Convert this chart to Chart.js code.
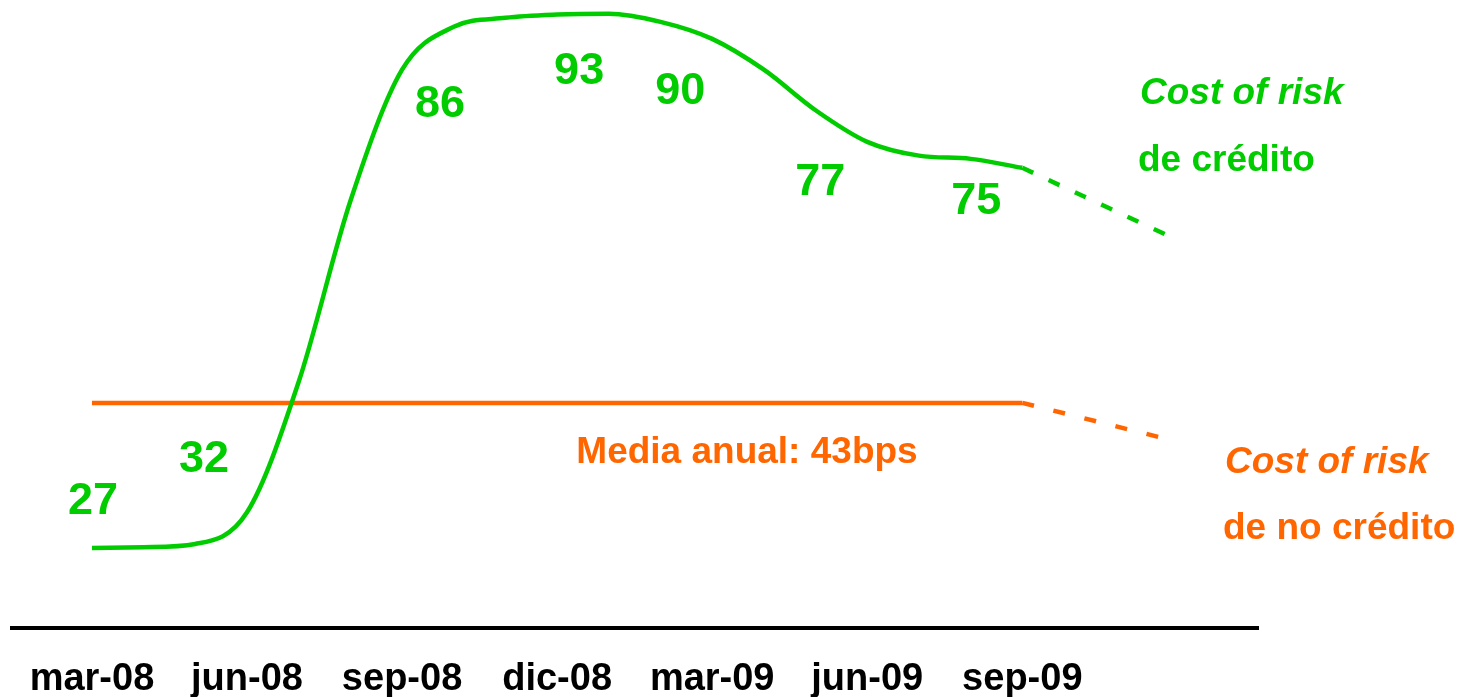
<!DOCTYPE html>
<html>
<head>
<meta charset="utf-8">
<script src="https://cdn.jsdelivr.net/npm/chart.js@4.4.0/dist/chart.umd.min.js"></script>
<style>
    html, body { margin: 0; padding: 0; background: #fff; }
    #wrap { width: 1458px; height: 697px; }
</style>
</head>
<body>
<div id="wrap"><canvas id="risk-chart" width="1458" height="697"></canvas></div>
<script>
// x values are months counted from mar-08
const quarterLabels = ['mar-08', 'jun-08', 'sep-08', 'dic-08', 'mar-09', 'jun-09', 'sep-09'];
const quarterMonths = [0, 3, 6, 9, 12, 15, 18];
const quarterValues = [27, 32, 86, 93, 90, 77, 75];

const creditMonths = [0, 1, 2, 3, 4, 5, 6, 7, 8, 9, 10, 11, 12, 13, 14, 15, 16, 17, 18];
const creditCost = [27.0, 27.1, 27.5, 31.4, 47.5, 69.8, 86.0, 91.3, 92.4, 92.8, 92.9, 91.9, 89.8, 86.0, 81.0, 77.1, 75.4, 75.0, 73.9];
const creditTrendMonths = [18, 21];
const creditTrend = [73.9, 65.0];

const nonCreditMonths = [0, 18];
const nonCreditCost = [44.9, 44.9];
const nonCreditTrendMonths = [18, 20.7];
const nonCreditTrend = [44.9, 40.6];

const averageText = 'Media anual: 43bps';

const GREEN = '#00cc00';
const ORANGE = '#ff6600';
const FONT = "'Liberation Sans', Arial, Helvetica, sans-serif";

function toPoints(xs, ys) {
    return xs.map((x, i) => ({ x: x, y: ys[i] }));
}

// value labels sit a bit off the curve, like in the slide
const labelOffsets = [[1, -34], [-43, -35], [38, 47], [22, 71], [-32, 67], [-47, 52], [-46, 55]];

const annotationPlugin = {
    id: 'annotations',
    afterDraw(chart) {
        const ctx = chart.ctx;
        const xs = chart.scales.x;
        const ys = chart.scales.y;
        ctx.save();
        ctx.textBaseline = 'alphabetic';
        ctx.textAlign = 'center';

        ctx.fillStyle = GREEN;
        ctx.font = 'bold 45px ' + FONT;
        quarterValues.forEach((v, i) => {
            const px = xs.getPixelForValue(quarterMonths[i]) + labelOffsets[i][0];
            const py = ys.getPixelForValue(v) + labelOffsets[i][1];
            ctx.fillText(String(v), px, py);
        });

        ctx.font = 'bold 37px ' + FONT;
        ctx.fillStyle = ORANGE;
        ctx.fillText(averageText, 747, ys.getPixelForValue(nonCreditCost[0]) + 60);

        ctx.textAlign = 'left';
        ctx.fillStyle = GREEN;
        ctx.font = 'italic bold 37px ' + FONT;
        ctx.fillText('Cost of risk', 1140, 104);
        ctx.font = 'bold 37px ' + FONT;
        ctx.fillText('de crédito', 1138, 171);

        ctx.fillStyle = ORANGE;
        ctx.font = 'italic bold 37px ' + FONT;
        ctx.fillText('Cost of risk', 1225, 473);
        ctx.font = 'bold 37px ' + FONT;
        ctx.fillText('de no crédito', 1223, 539);
        ctx.restore();
    }
};

document.addEventListener('DOMContentLoaded', function () {
    const ctx = document.getElementById('risk-chart').getContext('2d');
    new Chart(ctx, {
        type: 'line',
        data: {
            datasets: [{
                label: 'Cost of risk de crédito',
                data: toPoints(creditMonths, creditCost),
                borderColor: GREEN,
                borderWidth: 4.5,
                pointRadius: 0,
                cubicInterpolationMode: 'monotone',
                fill: false
            }, {
                label: 'Cost of risk de crédito (tendencia)',
                data: toPoints(creditTrendMonths, creditTrend),
                borderColor: GREEN,
                borderWidth: 4.5,
                borderDash: [12, 17],
                pointRadius: 0,
                fill: false
            }, {
                label: 'Cost of risk de no crédito',
                data: toPoints(nonCreditMonths, nonCreditCost),
                borderColor: ORANGE,
                borderWidth: 4.5,
                pointRadius: 0,
                fill: false
            }, {
                label: 'Cost of risk de no crédito (tendencia)',
                data: toPoints(nonCreditTrendMonths, nonCreditTrend),
                borderColor: ORANGE,
                borderWidth: 4.5,
                borderDash: [12, 20],
                pointRadius: 0,
                fill: false
            }]
        },
        options: {
            responsive: false,
            animation: false,
            layout: { padding: { left: 10, right: 200, top: 0, bottom: 0 } },
            plugins: {
                legend: { display: false },
                tooltip: { enabled: false }
            },
            scales: {
                x: {
                    type: 'linear',
                    min: -1.545,
                    max: 22.56,
                    afterBuildTicks: function (scale) {
                        scale.ticks = quarterMonths.map(m => ({ value: m }));
                    },
                    afterFit: function (scale) {
                        scale.height = 69;
                    },
                    grid: { display: false, drawTicks: false },
                    border: { display: true, color: '#000', width: 4 },
                    ticks: {
                        padding: 29,
                        color: '#000',
                        maxRotation: 0,
                        autoSkip: false,
                        font: { family: FONT, size: 38, weight: 'bold' },
                        callback: function (value) {
                            return quarterLabels[quarterMonths.indexOf(value)];
                        }
                    }
                },
                y: {
                    display: false,
                    min: 17.13,
                    max: 94.6
                }
            }
        },
        plugins: [annotationPlugin]
    });
});
</script>
</body>
</html>
